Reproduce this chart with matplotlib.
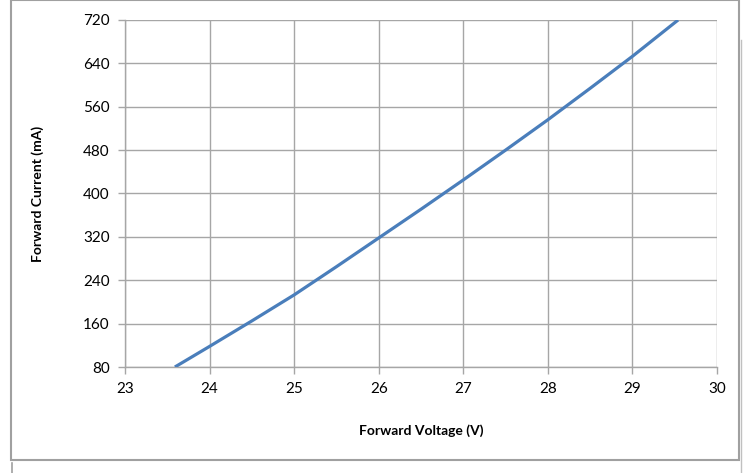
import matplotlib.pyplot as plt
from matplotlib.lines import Line2D
from matplotlib.patches import Rectangle

# forward voltage (V) vs forward current (mA)
voltage = [23.59, 24.0, 24.5, 25.0, 25.5, 26.0, 26.5, 27.0, 27.5, 28.0, 28.5, 29.0, 29.54]
current = [80, 118, 165, 213, 265, 318, 371, 425, 480, 536, 594, 653, 720]

x_ticks = [23, 24, 25, 26, 27, 28, 29, 30]
y_ticks = [80, 160, 240, 320, 400, 480, 560, 640, 720]

plt.rcParams['font.family'] = ['Lato', 'DejaVu Sans']

W, H = 747, 473
fig = plt.figure(figsize=(W / 100, H / 100), dpi=100)
# plot area in pixels: left 125, right 717, top 20, bottom 367
ax = fig.add_axes([125 / W, 1 - 367 / H, (717 - 125) / W, (367 - 20) / H])

ax.plot(voltage, current, color='#4a7ebb', linewidth=2.3, solid_capstyle='butt', zorder=3)

ax.set_xlim(23, 30)
ax.set_ylim(80, 720)
ax.set_xticks(x_ticks)
ax.set_yticks(y_ticks)
ax.grid(True, color='#a6a6a6', linewidth=1.0)
ax.set_axisbelow(True)
for side in ['top', 'right']:
    ax.spines[side].set_visible(False)
for side in ['left', 'bottom']:
    ax.spines[side].set_color('#a6a6a6')
    ax.spines[side].set_linewidth(1.0)
ax.tick_params(direction='out', length=5, width=1.0, color='#a6a6a6',
               labelsize=11, labelcolor='#000000', pad=6)

ax.set_xlabel('Forward Voltage (V)', fontsize=10, fontweight='bold', labelpad=20)
ax.set_ylabel('Forward Current (mA)', fontsize=10, fontweight='bold', labelpad=28)

# chart area border (Excel style)
fig.patches.append(Rectangle((11 / W, 1 - 460 / H), (739 - 11) / W, 460 / H,
                             transform=fig.transFigure, fill=False,
                             edgecolor='#a0a0a0', linewidth=1.5))
fig.lines.append(Line2D([12 / W, 12 / W], [0, 1 - 463 / H], transform=fig.transFigure,
                        color='#a0a0a0', linewidth=1.2))
fig.lines.append(Line2D([741 / W, 741 / W], [0, 1 - 40 / H], transform=fig.transFigure,
                        color='#c0c0c0', linewidth=1.0))

fig.savefig('out.png', dpi=100)
